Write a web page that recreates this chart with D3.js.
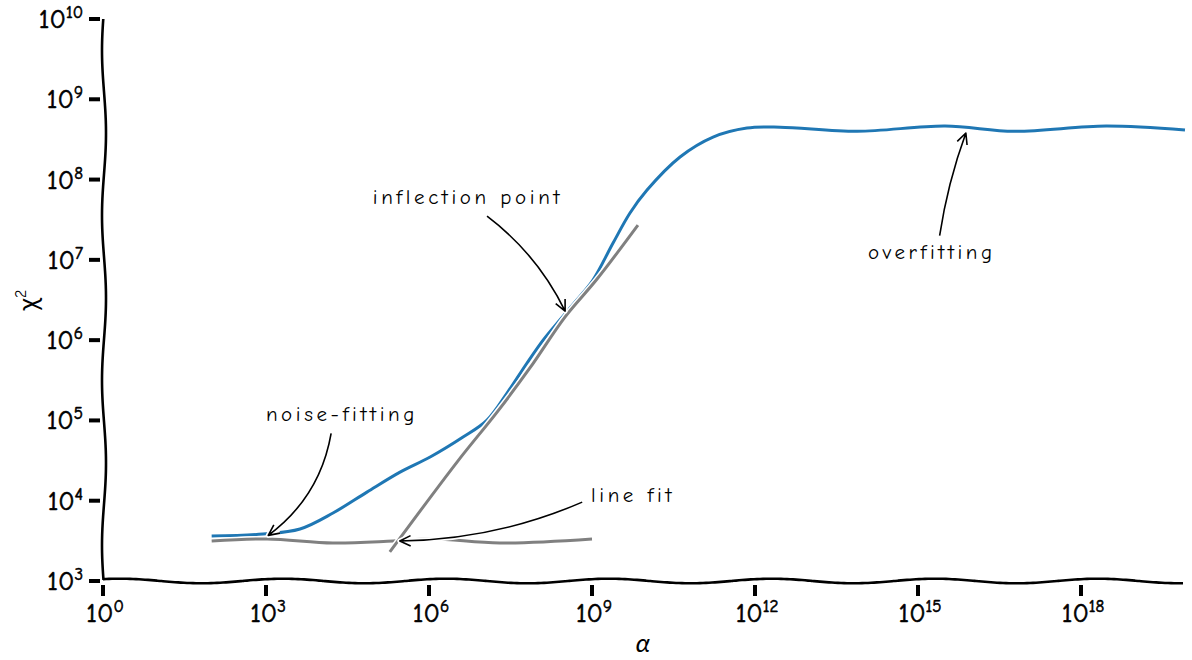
<!DOCTYPE html>
<html><head><meta charset="utf-8">
<script src="https://cdn.jsdelivr.net/npm/d3@7"></script>
<style>body{margin:0;background:#fff}</style>
</head><body><svg id="c" width="1192" height="660"></svg>
<script>
// ---- data ----
const alphaBlue = [1e2, 8.8e2, 4.23e3, 1.71e4, 7.2e4, 2.93e5, 1.05e6, 4.23e6, 1.17e7, 2.73e7, 6.37e7, 1.26e8, 2.28e8, 4.88e8, 1.04e9, 2.44e9, 5.0e9, 1.03e10, 4.17e10, 1.69e11, 7.1e11, 2.89e12, 7.6e13, 3.15e15, 5.9e16, 2.9e18, 8.2e19];
const chi2Blue  = [3630, 3850, 4450, 7030, 12800, 22700, 35000, 62100, 1.01e5, 2.19e5, 5.19e5, 1.0e6, 1.63e6, 2.98e6, 5.6e6, 1.62e7, 3.83e7, 7.4e7, 1.91e8, 3.38e8, 4.38e8, 4.5e8, 4.0e8, 4.64e8, 4.0e8, 4.64e8, 4.13e8];
const alphaFlat = [1e2, 1.05e3, 1.7e4, 2.2e5, 1.2e6, 2.0e7, 1e9];
const chi2Flat  = [3150, 3340, 2970, 3150, 3340, 2970, 3340];
const alphaSteep = [1.9e5, 3.28e6, 1.79e7, 7.2e7, 3.18e8, 1.24e9, 7.0e9];
const chi2Steep  = [2300, 30300, 1.27e5, 4.5e5, 1.94e6, 5.77e6, 2.71e7];
const xTickExps = [0, 3, 6, 9, 12, 15, 18];
const yTickExps = [3, 4, 5, 6, 7, 8, 9, 10];
const xDomain = [1, 8.2e19];
const yDomain = [1e3, 1e10];
const annotations = [
  {text: "noise-fitting",    at: [2.5e4, 1.23e5], from: [1.58e4, 6.9e4], to: [1.1e3, 3.7e3], rad: -0.2},
  {text: "inflection point", at: [5.2e6, 6.2e7],  from: [1.17e7, 3.5e7], to: [3.2e8, 2.3e6], rad: -0.12},
  {text: "line fit",         at: [5.7e9, 1.2e4],  from: [6.6e8, 9.6e3],  to: [2.9e5, 3.15e3], rad: -0.1},
  {text: "overfitting",      at: [1.8e15, 1.26e7], from: [2.5e15, 2.0e7], to: [7.6e15, 3.8e8], rad: -0.05}
];

// ---- drawing ----
const FONT = '"Humor Sans","Comic Neue","Lato",sans-serif';
const svg = d3.select("#c");
const x = d3.scaleLog().domain(xDomain).range([103, 1185]);
const y = d3.scaleLog().domain(yDomain).range([581, 19]);

const line = d3.line().x(d => x(d[0])).y(d => y(d[1])).curve(d3.curveCatmullRom.alpha(0.5));
function drawSeries(xs, ys, color) {
  const pts = xs.map((v, i) => [v, ys[i]]);
  svg.append("path").attr("d", line(pts)).attr("fill", "none")
    .attr("stroke", "#fff").attr("stroke-width", 6).attr("stroke-linecap", "butt");
  svg.append("path").attr("d", line(pts)).attr("fill", "none")
    .attr("stroke", color).attr("stroke-width", 3).attr("stroke-linecap", "butt");
}

// spines (hand-drawn wiggle)
const x0 = x(xDomain[0]), x1 = x(xDomain[1]);
const yb = y(yDomain[0]), yt = y(yDomain[1]);
const bottomPts = d3.range(x0, x1 + 1, 3).map(px => [px, yb - 2.3 * Math.cos(2 * Math.PI * (px - 283) / 163)]);
const leftPts = d3.range(yt, yb + 1, 3).map(py => [x0 + 1 + 2 * Math.cos(2 * Math.PI * (py - 133) / 165), py]);
const raw = d3.line().curve(d3.curveBasis);
svg.append("path").attr("d", raw(leftPts)).attr("fill", "none").attr("stroke", "#000").attr("stroke-width", 2.6);
svg.append("path").attr("d", raw(bottomPts)).attr("fill", "none").attr("stroke", "#000").attr("stroke-width", 2.6);

// ticks
function tickLabel(sel, e) {
  sel.attr("font-family", FONT).attr("font-size", 27).attr("fill", "#000")
    .attr("stroke", "#000").attr("stroke-width", 0.6);
  sel.append("tspan").text("10");
  sel.append("tspan").attr("dy", -10).attr("font-size", 17).text(e);
}
yTickExps.forEach(e => {
  const py = y(Math.pow(10, e));
  svg.append("line").attr("x1", x0 - 14).attr("x2", x0 - 3).attr("y1", py).attr("y2", py)
    .attr("stroke", "#000").attr("stroke-width", 4);
  tickLabel(svg.append("text").attr("x", 83).attr("y", py + 9).attr("text-anchor", "end"), e);
});
xTickExps.forEach(e => {
  const px = x(Math.pow(10, e));
  svg.append("line").attr("x1", px).attr("x2", px).attr("y1", yb + 4).attr("y2", yb + 15)
    .attr("stroke", "#000").attr("stroke-width", 4);
  tickLabel(svg.append("text").attr("x", px + 2).attr("y", 622).attr("text-anchor", "middle"), e);
});

// axis labels
svg.append("text").attr("x", 643).attr("y", 652).attr("text-anchor", "middle")
  .attr("font-family", FONT).attr("font-style", "italic").attr("font-size", 26).text("α");
const yl = svg.append("text").attr("transform", "translate(37,300) rotate(-90)").attr("text-anchor", "middle")
  .attr("font-family", FONT).attr("font-size", 26);
yl.append("tspan").text("χ");
yl.append("tspan").attr("dy", -11).attr("font-size", 16).text("2");

// series
drawSeries(alphaBlue, chi2Blue, "#1f77b4");
drawSeries(alphaFlat, chi2Flat, "#808080");
drawSeries(alphaSteep, chi2Steep, "#808080");

// annotations
annotations.forEach(a => {
  const sx = x(a.from[0]), sy = y(a.from[1]);
  const ex = x(a.to[0]), ey = y(a.to[1]);
  const dx = ex - sx, dy = ey - sy;
  const cx = (sx + ex) / 2 + a.rad * (-dy), cy = (sy + ey) / 2 + a.rad * dx;
  const ang = Math.atan2(ey - cy, ex - cx);
  const L = 12, sp = 0.45;
  const head = `M${ex - L * Math.cos(ang - sp)},${ey - L * Math.sin(ang - sp)}L${ex},${ey}L${ex - L * Math.cos(ang + sp)},${ey - L * Math.sin(ang + sp)}`;
  const d = `M${sx},${sy}Q${cx},${cy} ${ex},${ey}` + head;
  svg.append("path").attr("d", d).attr("fill", "none").attr("stroke", "#fff").attr("stroke-width", 5).attr("stroke-linejoin", "round");
  svg.append("path").attr("d", d).attr("fill", "none").attr("stroke", "#000").attr("stroke-width", 1.6).attr("stroke-linejoin", "round");
  svg.append("text").attr("x", x(a.at[0])).attr("y", y(a.at[1])).attr("dy", "0.35em")
    .attr("text-anchor", "middle").attr("font-family", FONT).attr("font-size", 21)
    .attr("letter-spacing", 3.6).attr("fill", "#000").text(a.text);
});
</script></body></html>
